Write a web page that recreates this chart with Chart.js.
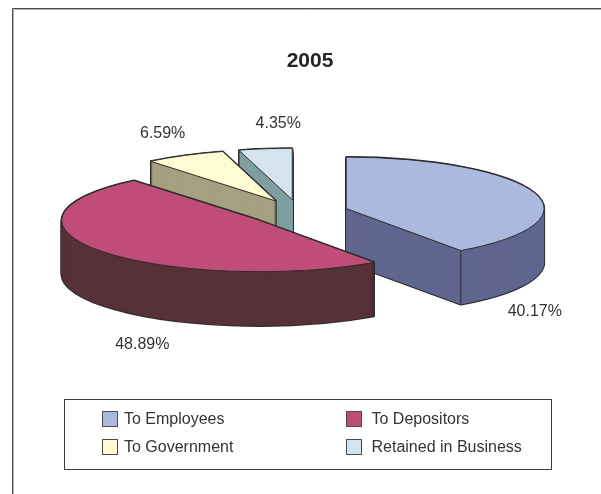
<!DOCTYPE html>
<html>
<head>
<meta charset="utf-8">
<title>2005</title>
<script src="https://cdn.jsdelivr.net/npm/chart.js@4"></script>
<style>
  html, body { margin: 0; padding: 0; background: #fff; }
  canvas { display: block; }
</style>
</head>
<body>
<canvas id="chart" width="601" height="494"></canvas>
<script>
// Distribution of value added, 2005
const chartTitle = '2005';
const categories = ['To Employees', 'To Depositors', 'To Government', 'Retained in Business'];
const shares = [40.17, 48.89, 6.59, 4.35];
const shareLabels = ['40.17%', '48.89%', '6.59%', '4.35%'];

const topColors = ['#abb9de', '#c04d78', '#fffbd2', '#d3e4ef'];
const sideColors = ['#5f668f', '#583139', '#a5a080', '#7f9e9f'];
const outlineColor = '#2b2b2b';
const textColor = '#333333';
const fontFamily = '"Liberation Sans", Arial, sans-serif';

// Pie geometry: a flat pie is squashed and extruded to look three-dimensional.
const pieRadius = 198;
const squash = 51.5 / 198;
const pieDepth = 54;
const explode = 0.25;
const paintOrder = [3, 2, 0, 1];

// Label placement relative to the rim point at each slice's middle angle.
const labelNudges = [[0, 119], [40, 93.5], [-22, -21.5], [13, -25]];

function explodedCentre(arc) {
  const mid = (arc.startAngle + arc.endAngle) / 2;
  return {
    x: arc.x + Math.cos(mid) * pieRadius * explode,
    y: arc.y + Math.sin(mid) * pieRadius * explode,
    mid
  };
}

function toScreen(arc, px, py) {
  return { x: px, y: arc.y + (py - arc.y) * squash };
}

function paintLayer(ctx, arc, drop, style) {
  const base = arc.options;
  const c = explodedCentre(arc);
  arc.options = Object.assign({}, base, style);
  ctx.save();
  ctx.translate(0, drop);
  ctx.translate(arc.x, arc.y);
  ctx.scale(1, squash);
  ctx.translate(-arc.x, -arc.y);
  ctx.translate(c.x - arc.x, c.y - arc.y);
  // Strokes go through the identity transform so line widths stay even after squashing.
  const nativeStroke = CanvasRenderingContext2D.prototype.stroke;
  ctx.stroke = function () {
    ctx.save();
    ctx.setTransform(1, 0, 0, 1, 0, 0);
    nativeStroke.call(ctx);
    ctx.restore();
  };
  arc.draw(ctx);
  delete ctx.stroke;
  ctx.restore();
  arc.options = base;
}

function paintRimEdges(ctx, arc) {
  const c = explodedCentre(arc);
  const edges = [
    { angle: arc.startAngle, faceFront: -Math.cos(arc.startAngle) > 1e-6 },
    { angle: arc.endAngle, faceFront: Math.cos(arc.endAngle) > 1e-6 }
  ];
  ctx.save();
  ctx.strokeStyle = outlineColor;
  ctx.lineWidth = 1;
  edges.forEach(edge => {
    if (!edge.faceFront && Math.sin(edge.angle) <= 0) return;
    const p = toScreen(arc,
      c.x + Math.cos(edge.angle) * pieRadius,
      c.y + Math.sin(edge.angle) * pieRadius);
    ctx.beginPath();
    ctx.moveTo(p.x, p.y);
    ctx.lineTo(p.x, p.y + pieDepth);
    ctx.stroke();
  });
  ctx.restore();
}

const extrudedPie = {
  id: 'extrudedPie',
  beforeDatasetDraw(chart, args) {
    const ctx = chart.ctx;
    paintOrder.forEach(i => {
      const arc = args.meta.data[i];
      for (let d = pieDepth; d >= 0; d--) {
        paintLayer(ctx, arc, d, { backgroundColor: outlineColor, borderColor: outlineColor, borderWidth: 2 });
      }
      for (let d = pieDepth; d >= 0; d--) {
        paintLayer(ctx, arc, d, { backgroundColor: sideColors[i], borderWidth: 0 });
      }
      paintRimEdges(ctx, arc);
      paintLayer(ctx, arc, 0, { backgroundColor: topColors[i], borderColor: outlineColor, borderWidth: 1 });
    });
    return false;
  }
};

const framing = {
  id: 'framing',
  beforeDraw(chart) {
    const ctx = chart.ctx;
    ctx.save();
    ctx.lineWidth = 1;
    ctx.strokeStyle = '#4a4a4a';
    ctx.beginPath();
    ctx.moveTo(12.5, chart.height);
    ctx.lineTo(12.5, 8.5);
    ctx.lineTo(chart.width, 8.5);
    ctx.stroke();
    ctx.strokeStyle = '#b5b5b5';
    ctx.beginPath();
    ctx.moveTo(13.5, chart.height);
    ctx.lineTo(13.5, 9.5);
    ctx.lineTo(chart.width, 9.5);
    ctx.stroke();
    ctx.restore();
  }
};

const annotations = {
  id: 'annotations',
  afterDraw(chart) {
    const ctx = chart.ctx;
    const meta = chart.getDatasetMeta(0);
    ctx.save();
    ctx.fillStyle = textColor;

    // Title
    ctx.font = 'bold 21px ' + fontFamily;
    ctx.fillStyle = '#262626';
    ctx.textAlign = 'center';
    ctx.textBaseline = 'alphabetic';
    ctx.fillText(chartTitle, 310, 67);

    // Percentage labels
    ctx.font = '16px ' + fontFamily;
    ctx.fillStyle = textColor;
    ctx.textBaseline = 'middle';
    meta.data.forEach((arc, i) => {
      const c = explodedCentre(arc);
      const rim = toScreen(arc,
        c.x + Math.cos(c.mid) * pieRadius,
        c.y + Math.sin(c.mid) * pieRadius);
      ctx.fillText(shareLabels[i], rim.x + labelNudges[i][0], rim.y + labelNudges[i][1]);
    });

    // Legend box
    ctx.strokeStyle = '#3c3c3c';
    ctx.lineWidth = 1;
    ctx.strokeRect(64.5, 399.5, 487, 70);
    ctx.textAlign = 'left';
    const columns = [102, 346];
    const textGaps = [22, 25.5];
    const rows = [411, 439];
    categories.forEach((name, i) => {
      const x = columns[i % 2];
      const y = rows[Math.floor(i / 2)];
      ctx.fillStyle = topColors[i];
      ctx.fillRect(x, y, 16, 16);
      ctx.strokeStyle = '#4a4a4a';
      ctx.strokeRect(x + 0.5, y + 0.5, 15, 15);
      ctx.fillStyle = textColor;
      ctx.fillText(name, x + textGaps[i % 2], y + 8.5);
    });
    ctx.restore();
  }
};

new Chart(document.getElementById('chart'), {
  type: 'pie',
  data: {
    labels: categories,
    datasets: [{
      data: shares,
      backgroundColor: topColors,
      borderColor: outlineColor,
      borderWidth: 1,
      radius: pieRadius
    }]
  },
  options: {
    responsive: false,
    animation: false,
    events: [],
    layout: { padding: { left: 0, right: 3, top: 0, bottom: 69 } },
    plugins: {
      legend: { display: false },
      title: { display: false },
      tooltip: { enabled: false }
    }
  },
  plugins: [framing, extrudedPie, annotations]
});
</script>
</body>
</html>
